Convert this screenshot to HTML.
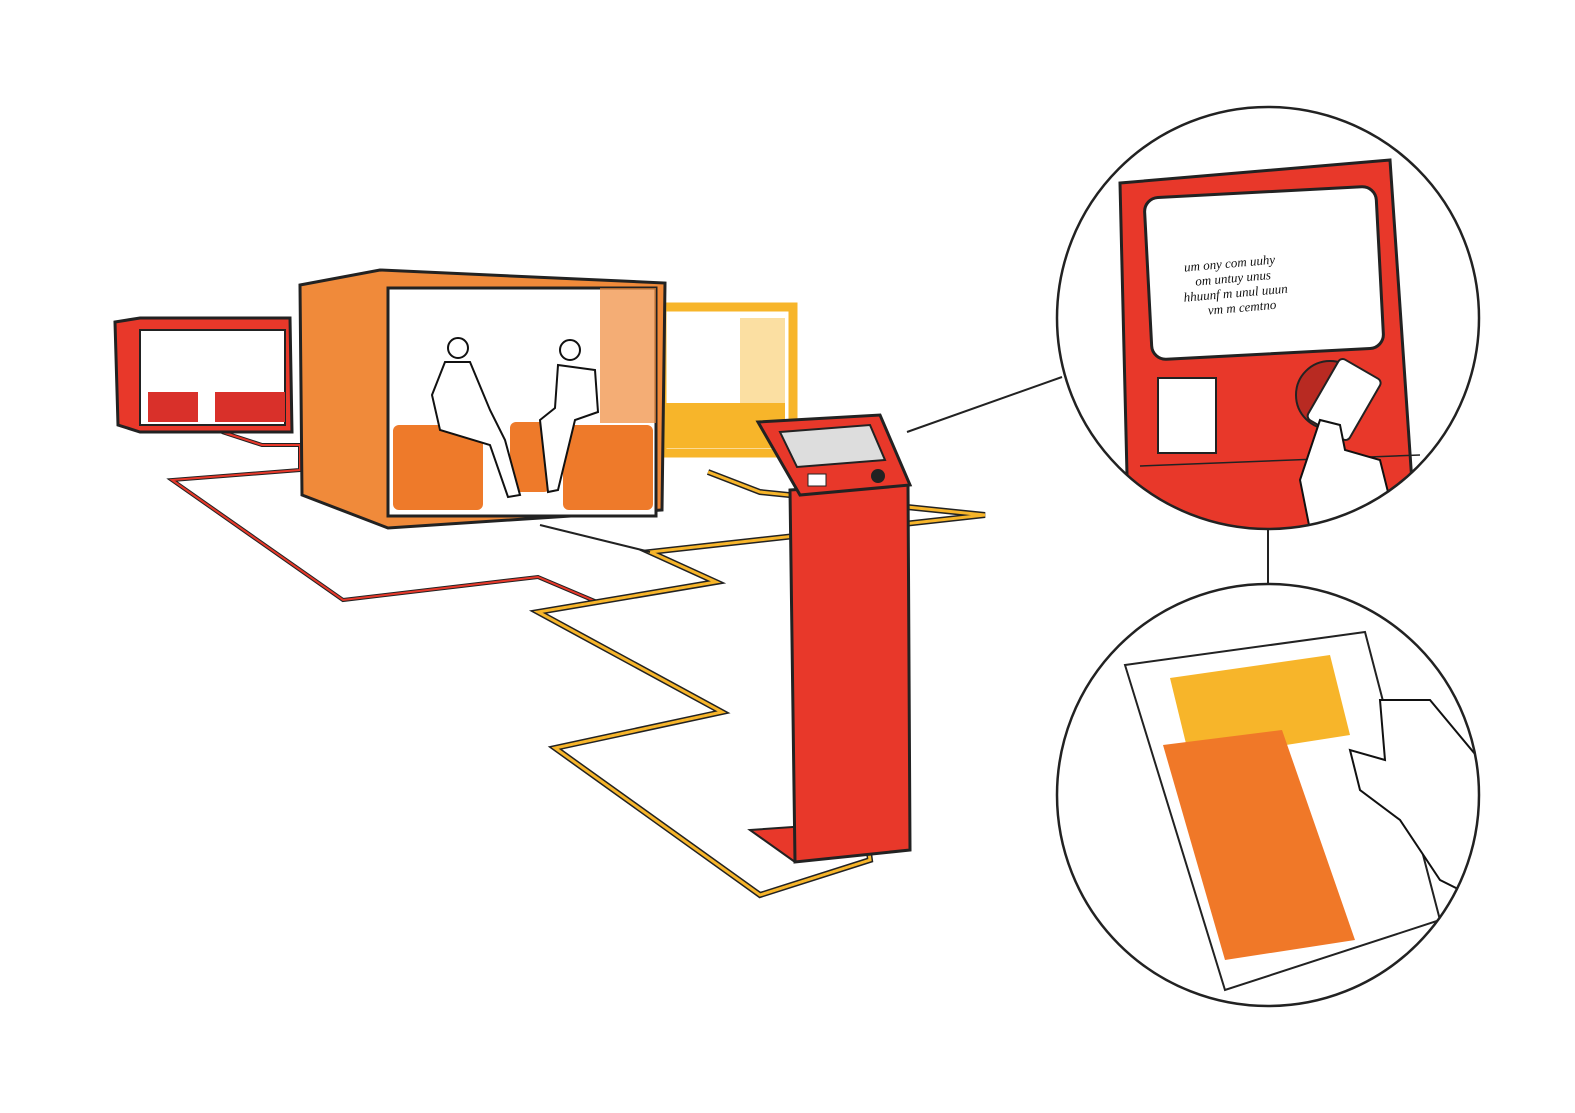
<!DOCTYPE html>
<html><head><meta charset="utf-8"><style>
html,body{margin:0;padding:0;background:#fff;}
svg{display:block}
</style></head><body>
<svg width="1575" height="1113" viewBox="0 0 1575 1113" xmlns="http://www.w3.org/2000/svg">
<rect width="1575" height="1113" fill="#fff"/>
<g fill="none" stroke-linejoin="miter">
<path d="M222,432 L262,445 L300,445 L300,470 L172,480 L343,600 L538,577 L597,602" stroke="#222" stroke-width="4"/>
<path d="M222,432 L262,445 L300,445 L300,470 L172,480 L343,600 L538,577 L597,602" stroke="#e8382a" stroke-width="2"/>
<path d="M708,472 L760,492 L985,515 L650,552 L716,582 L538,612 L722,712 L555,748 L760,895 L870,860 L868,845" stroke="#222" stroke-width="6"/>
<path d="M708,472 L760,492 L985,515 L650,552 L716,582 L538,612 L722,712 L555,748 L760,895 L870,860 L868,845" stroke="#f7b52a" stroke-width="3"/>
<path d="M540,525 L650,552" stroke="#222" stroke-width="2"/>
</g>
<polygon points="115,322 140,318 290,318 292,432 140,432 118,425" fill="#e8382a" stroke="#222" stroke-width="3"/>
<rect x="140" y="330" width="145" height="95" fill="#fff" stroke="#222" stroke-width="2"/>
<rect x="148" y="392" width="50" height="30" fill="#d9302a"/>
<rect x="215" y="392" width="70" height="30" fill="#d9302a"/>
<!-- yellow box -->
<rect x="660" y="305" width="135" height="150" fill="#fff" stroke="#222" stroke-width="2"/>
<rect x="662" y="307" width="131" height="146" fill="none" stroke="#f7b52a" stroke-width="9"/>
<rect x="740" y="318" width="45" height="85" fill="#f9d27a" opacity="0.7"/>
<rect x="665" y="403" width="120" height="45" fill="#f7b52a"/>
<polygon points="300,285 380,270 665,283 662,510 388,528 302,495" fill="#f08a3a" stroke="#222" stroke-width="3"/>
<rect x="388" y="288" width="268" height="228" fill="#fff" stroke="#222" stroke-width="3"/>
<rect x="393" y="425" width="90" height="85" fill="#ee7a2a" rx="6"/>
<rect x="510" y="422" width="40" height="70" fill="#ee7a2a" rx="6"/>
<rect x="563" y="425" width="90" height="85" fill="#ee7a2a" rx="6"/>
<rect x="600" y="288" width="56" height="135" fill="#f08a3a" opacity="0.7"/>
<g fill="#fff" stroke="#111" stroke-width="2">
<circle cx="458" cy="348" r="10"/>
<path d="M445,362 L470,362 L490,410 L505,440 L520,495 L508,497 L490,445 L440,430 L432,395 Z"/>
<circle cx="570" cy="350" r="10"/>
<path d="M558,365 L595,370 L598,412 L575,420 L558,490 L548,492 L540,420 L555,408 Z"/>
</g>
<!-- kiosk -->
<polygon points="750,830 865,822 870,845 795,862" fill="#e8382a" stroke="#222" stroke-width="2"/>
<polygon points="790,490 908,482 910,850 795,862" fill="#e8382a" stroke="#222" stroke-width="3"/>
<polygon points="758,422 880,415 910,485 800,495" fill="#e8382a" stroke="#222" stroke-width="3"/>
<polygon points="780,432 870,425 885,460 797,467" fill="#ddd" stroke="#222" stroke-width="2"/>
<rect x="808" y="474" width="18" height="12" fill="#fff" stroke="#222"/>
<circle cx="878" cy="476" r="7" fill="#222"/>
<line x1="907" y1="432" x2="1062" y2="377" stroke="#222" stroke-width="2"/>
<line x1="1268" y1="530" x2="1268" y2="585" stroke="#222" stroke-width="2"/>
<defs>
<clipPath id="c1"><circle cx="1268" cy="318" r="211"/></clipPath>
<clipPath id="c2"><circle cx="1268" cy="795" r="211"/></clipPath>
</defs>
<g clip-path="url(#c1)">
<polygon points="1120,183 1390,160 1420,600 1130,600" fill="#e8382a" stroke="#222" stroke-width="3"/>
<rect x="1148" y="192" width="232" height="162" rx="14" fill="#fff" stroke="#222" stroke-width="3" transform="rotate(-3 1264 273)"/>
<line x1="1140" y1="466" x2="1420" y2="455" stroke="#222" stroke-width="1.5"/>
<rect x="1158" y="378" width="58" height="75" fill="#fff" stroke="#222" stroke-width="2"/>
<circle cx="1330" cy="395" r="34" fill="#b82a22" stroke="#222" stroke-width="2"/>
<rect x="1310" y="375" width="70" height="48" rx="5" fill="#fff" stroke="#222" stroke-width="2" transform="rotate(-60 1345 400)"/>
<path d="M1300,480 L1320,420 L1340,425 L1345,450 L1380,460 L1395,520 L1310,530 Z" fill="#fff" stroke="#111" stroke-width="2"/>
</g>
<circle cx="1268" cy="318" r="211" fill="none" stroke="#222" stroke-width="2.5"/>
<g font-family="Liberation Serif, serif" font-style="italic" font-size="13" fill="#111" transform="rotate(-5 1260 275)">
<text x="1185" y="265">um ony com uuhy</text>
<text x="1195" y="280">om untuy unus</text>
<text x="1182" y="295">hhuunf m unul uuun</text>
<text x="1205" y="310">vm m cemtno</text>
</g>
<g clip-path="url(#c2)">
<polygon points="1125,665 1365,632 1440,920 1225,990" fill="#fff" stroke="#222" stroke-width="2"/>
<polygon points="1170,678 1330,655 1350,735 1190,760" fill="#f7b52a"/>
<polygon points="1163,745 1282,730 1355,940 1225,960" fill="#f07828"/>
<path d="M1380,700 L1430,700 L1480,760 L1480,900 L1440,880 L1400,820 L1360,790 L1350,750 L1385,760 Z" fill="#fff" stroke="#111" stroke-width="2"/>
</g>
<circle cx="1268" cy="795" r="211" fill="none" stroke="#222" stroke-width="2.5"/>
</svg>
</body></html>
